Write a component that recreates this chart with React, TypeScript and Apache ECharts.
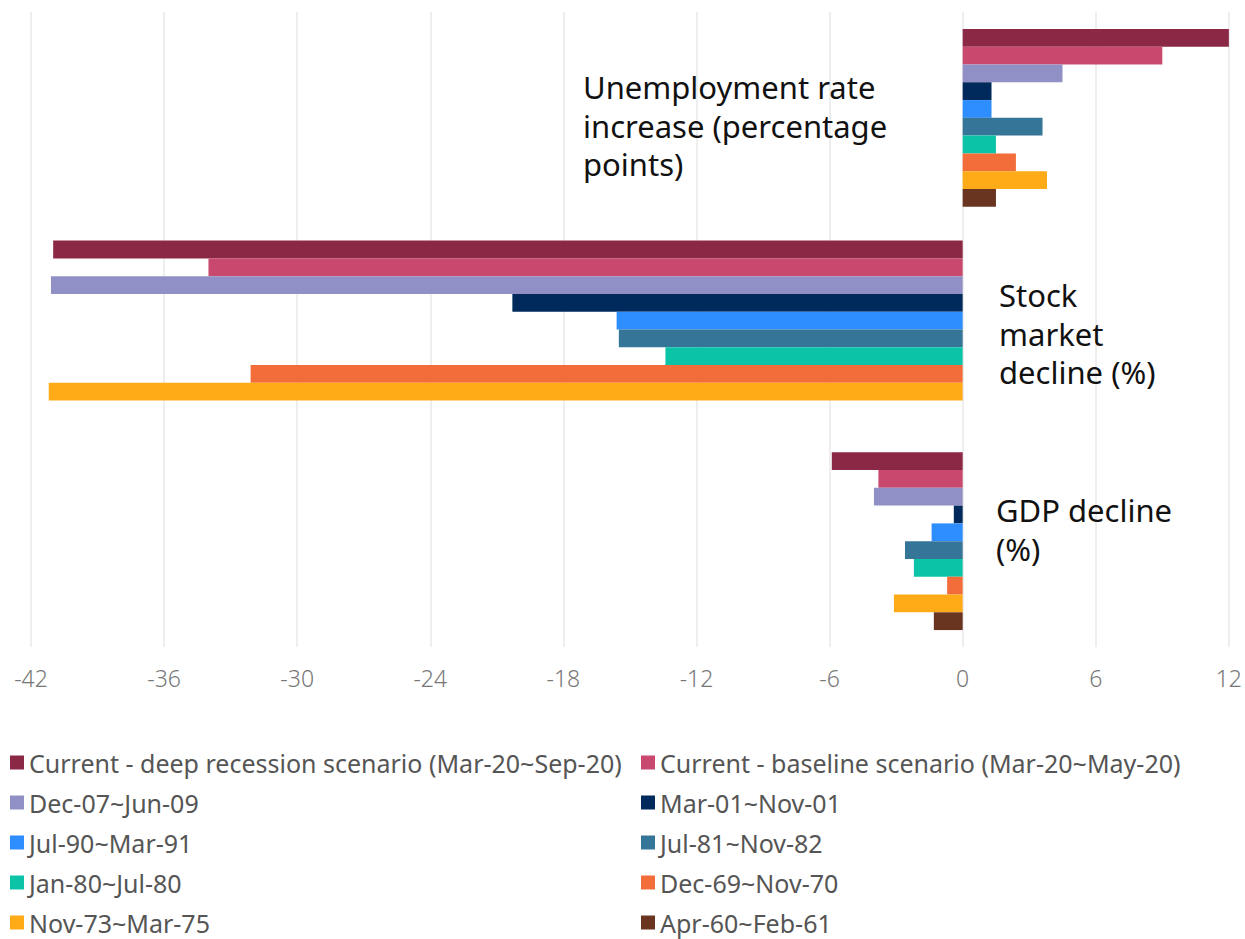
import React, { useEffect, useRef } from "react";
import * as echarts from "echarts";

const categories = [
  "Unemployment rate\nincrease (percentage\npoints)",
  "Stock\nmarket\ndecline (%)",
  "GDP decline\n(%)",
];

const seriesNames = [
  "Current - deep recession scenario (Mar-20~Sep-20)",
  "Current - baseline scenario (Mar-20~May-20)",
  "Dec-07~Jun-09",
  "Mar-01~Nov-01",
  "Jul-90~Mar-91",
  "Jul-81~Nov-82",
  "Jan-80~Jul-80",
  "Dec-69~Nov-70",
  "Nov-73~Mar-75",
  "Apr-60~Feb-61",
];

const seriesColors = [
  "#8B2846",
  "#C9486E",
  "#9090C6",
  "#002A5C",
  "#2E8DFF",
  "#357598",
  "#0BC4A8",
  "#F26D39",
  "#FFAB18",
  "#6A3520",
];

// values per series: [unemployment, stock market, GDP]
const deepRecession = [12.0, -41.0, -5.9];
const baseline = [9.0, -34.0, -3.8];
const dec07 = [4.5, -41.1, -4.0];
const mar01 = [1.3, -20.3, -0.4];
const jul90 = [1.3, -15.6, -1.4];
const jul81 = [3.6, -15.5, -2.6];
const jan80 = [1.5, -13.4, -2.2];
const dec69 = [2.4, -32.1, -0.7];
const nov73 = [3.8, -41.2, -3.1];
const apr60 = [1.5, null, -1.3];

const seriesValues = [deepRecession, baseline, dec07, mar01, jul90, jul81, jan80, dec69, nov73, apr60];

const xTicks = { min: -42, max: 12, interval: 6 };

const labelPositions = [
  { x: 583, y: 68 },
  { x: 999, y: 276 },
  { x: 996, y: 491 },
];

const FONT = "'Noto Sans', 'Open Sans', sans-serif";

export default function App() {
  const ref = useRef<HTMLDivElement>(null);
  useEffect(() => {
    document.body.style.margin = "0";
    if (!ref.current) return;
    const chart = echarts.init(ref.current, null, { renderer: "svg" });
    const legends = seriesNames.map((name, i) => {
      const col = i % 2;
      const row = Math.floor(i / 2);
      return {
        orient: "horizontal",
        left: col === 0 ? 10 : 641,
        top: 762 + row * 40 - 12,
        padding: 0,
        icon: "rect",
        itemWidth: 14,
        itemHeight: 14,
        selectedMode: false,
        data: [name],
        textStyle: { fontFamily: FONT, fontSize: 25, color: "#555555", lineHeight: 24 },
      };
    });
    chart.setOption({
      animation: false,
      backgroundColor: "#ffffff",
      grid: { left: 31, right: 16, top: 12, bottom: 939 - 647, containLabel: false },
      xAxis: {
        type: "value",
        min: xTicks.min,
        max: xTicks.max,
        interval: xTicks.interval,
        axisLine: { show: false },
        axisTick: { show: false },
        splitLine: { show: true, lineStyle: { color: "#eeeeee", width: 2 } },
        axisLabel: { fontFamily: FONT, fontSize: 23, color: "#777777", fontWeight: 300, margin: 19 },
      },
      yAxis: {
        type: "category",
        data: categories,
        inverse: true,
        axisLine: { show: false },
        axisTick: { show: false },
        axisLabel: { show: false },
        splitLine: { show: false },
      },
      legend: legends,
      graphic: categories.map((c, i) => ({
        type: "text",
        left: labelPositions[i].x,
        top: labelPositions[i].y,
        z: 100,
        silent: true,
        style: {
          text: c,
          font: `400 31px ${FONT}`,
          fill: "#111111",
          lineHeight: 38.5,
        },
      })),
      series: seriesNames.map((name, i) => ({
        name,
        type: "bar",
        data: seriesValues[i],
        barGap: "0%",
        barCategoryGap: "16%",
        itemStyle: { color: seriesColors[i] },
      })),
    });
    return () => chart.dispose();
  }, []);
  return <div ref={ref} style={{ width: 1245, height: 939 }} />;
}
